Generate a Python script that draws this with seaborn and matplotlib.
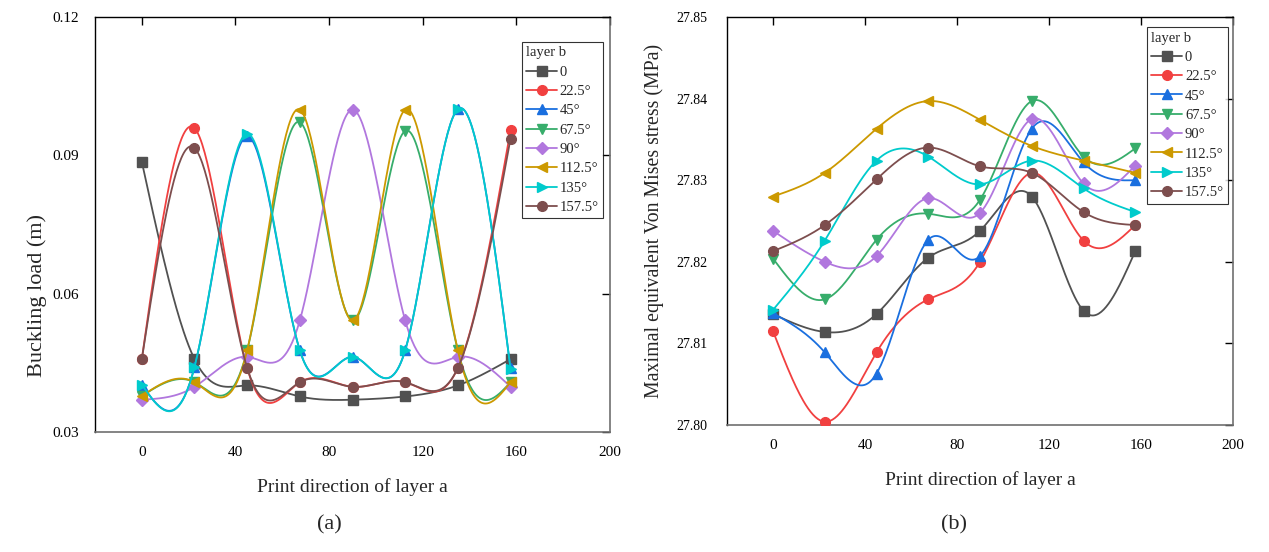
import numpy as np
import pandas as pd
import matplotlib
matplotlib.use("Agg")
import matplotlib.pyplot as plt
from matplotlib.lines import Line2D
import seaborn as sns

sns.set_theme(style="white")
plt.rcParams['font.family'] = ['Liberation Serif', 'DejaVu Serif']

# ---------------- data ----------------
angles_a = [0, 22.5, 45, 67.5, 90, 112.5, 135, 157.5]
layer_b = ["0", "22.5°", "45°", "67.5°", "90°", "112.5°", "135°", "157.5°"]

buck_0 = [0.0886, 0.0458, 0.0401, 0.0377, 0.0370, 0.0377, 0.0401, 0.0458]
buck_22_5 = [0.0458, 0.0959, 0.0439, 0.0408, 0.0398, 0.0408, 0.0439, 0.0954]
buck_45 = [0.0403, 0.0441, 0.0941, 0.0477, 0.0463, 0.0477, 0.1000, 0.0438]
buck_67_5 = [0.0378, 0.0408, 0.0477, 0.0972, 0.0542, 0.0953, 0.0477, 0.0408]
buck_90 = [0.0370, 0.0398, 0.0463, 0.0542, 0.0999, 0.0542, 0.0463, 0.0398]
buck_112_5 = [0.0378, 0.0408, 0.0477, 0.0999, 0.0542, 0.0999, 0.0477, 0.0408]
buck_135 = [0.0403, 0.0441, 0.0947, 0.0477, 0.0463, 0.0477, 0.1000, 0.0437]
buck_157_5 = [0.0458, 0.0916, 0.0439, 0.0408, 0.0398, 0.0408, 0.0439, 0.0936]

mises_0 = [27.8136, 27.8114, 27.8136, 27.8205, 27.8238, 27.8280, 27.8140, 27.8213]
mises_22_5 = [27.8115, 27.8004, 27.8089, 27.8154, 27.8200, 27.8309, 27.8226, 27.8245]
mises_45 = [27.8137, 27.8089, 27.8063, 27.8227, 27.8207, 27.8363, 27.8322, 27.8300]
mises_67_5 = [27.8204, 27.8154, 27.8227, 27.8259, 27.8276, 27.8397, 27.8329, 27.8339]
mises_90 = [27.8238, 27.8200, 27.8207, 27.8278, 27.8260, 27.8375, 27.8296, 27.8318]
mises_112_5 = [27.8280, 27.8309, 27.8363, 27.8397, 27.8374, 27.8342, 27.8324, 27.8309]
mises_135 = [27.8141, 27.8226, 27.8324, 27.8329, 27.8295, 27.8324, 27.8290, 27.8261]
mises_157_5 = [27.8213, 27.8245, 27.8301, 27.8340, 27.8317, 27.8309, 27.8261, 27.8245]

buckling = [buck_0, buck_22_5, buck_45, buck_67_5, buck_90, buck_112_5, buck_135, buck_157_5]
mises = [mises_0, mises_22_5, mises_45, mises_67_5, mises_90, mises_112_5, mises_135, mises_157_5]

x_ticks = [0, 40, 80, 120, 160, 200]
buck_ticks = [0.03, 0.06, 0.09, 0.12]
mises_ticks = [27.80, 27.81, 27.82, 27.83, 27.84, 27.85]

colors = ["#515151", "#F14040", "#1A6FDF", "#37AD6B", "#B177DE", "#CC9900", "#00CBCC", "#7D4E4E"]
markers = ["s", "o", "^", "v", "D", "<", ">", "o"]
msizes = [6.5, 7, 7, 7, 6, 7, 7, 7]


def natural_spline(x, y, n=300):
    x = np.asarray(x, float)
    y = np.asarray(y, float)
    k = len(x)
    h = np.diff(x)
    A = np.zeros((k, k))
    r = np.zeros(k)
    A[0, 0] = 1
    A[-1, -1] = 1
    for i in range(1, k - 1):
        A[i, i - 1] = h[i - 1]
        A[i, i] = 2 * (h[i - 1] + h[i])
        A[i, i + 1] = h[i]
        r[i] = 6 * ((y[i + 1] - y[i]) / h[i] - (y[i] - y[i - 1]) / h[i - 1])
    M = np.linalg.solve(A, r)
    xs = np.linspace(x[0], x[-1], n)
    idx = np.clip(np.searchsorted(x, xs) - 1, 0, k - 2)
    x0, x1 = x[idx], x[idx + 1]
    hh = x1 - x0
    t0 = x1 - xs
    t1 = xs - x0
    ys = (M[idx] * t0 ** 3 / (6 * hh) + M[idx + 1] * t1 ** 3 / (6 * hh)
          + (y[idx] / hh - M[idx] * hh / 6) * t0 + (y[idx + 1] / hh - M[idx + 1] * hh / 6) * t1)
    return xs, ys


fig = plt.figure(figsize=(12.69, 5.52), dpi=100)
W, H = 1269, 552
axL = fig.add_axes([95 / W, (H - 432) / H, 515 / W, 415 / H])
axR = fig.add_axes([727 / W, (H - 425) / H, 506 / W, 408 / H])


def draw(ax, series, yticks, ylim, ylabel, ylab_size, ylab_pos, ytick_size, ypad, leg_anchor):
    for i, vals in enumerate(series):
        xs, ys = natural_spline(angles_a, vals)
        sns.lineplot(x=xs, y=ys, ax=ax, color=colors[i], lw=1.3, zorder=2 + i, legend=False)
        ax.plot(angles_a, vals, ls="none", marker=markers[i], ms=msizes[i], color=colors[i],
                mec=colors[i], zorder=2.5 + i)
    ax.set_xlim(-20, 200)
    ax.set_ylim(*ylim)
    ax.set_xticks(x_ticks)
    ax.set_yticks(yticks)
    ax.set_yticklabels(["{:.2f}".format(v) for v in yticks])
    ax.tick_params(direction="in", length=6, width=1, top=True, right=True, colors="black")
    ax.tick_params(axis="x", labelsize=11, pad=10)
    ax.tick_params(axis="y", labelsize=ytick_size, pad=ypad)
    ax.set_xlabel("Print direction of layer a", fontsize=14, labelpad=14)
    ax.set_ylabel(ylabel, fontsize=ylab_size)
    ax.yaxis.set_label_coords(ylab_pos[0], ylab_pos[1])
    for s in ["left", "top"]:
        ax.spines[s].set_color("black")
        ax.spines[s].set_linewidth(1.0)
    for s in ["right", "bottom"]:
        ax.spines[s].set_color("#707070")
        ax.spines[s].set_linewidth(1.2)
    handles = [Line2D([0], [0], color=colors[i], lw=1.3, marker=markers[i], ms=msizes[i])
               for i in range(len(series))]
    leg = ax.legend(handles, layer_b, title="layer b", loc="upper left", bbox_to_anchor=leg_anchor,
                    borderaxespad=0, fontsize=10.5, title_fontsize=10.5, frameon=True, fancybox=False,
                    edgecolor="black", handlelength=2.1, handletextpad=0.2, labelspacing=0.42,
                    borderpad=0.3)
    leg._legend_box.align = "left"
    leg.get_frame().set_linewidth(0.8)


draw(axL, buckling, buck_ticks, (0.03, 0.12), "Buckling load (m)", 16, (-0.093, 0.33), 11, 11.5,
     (0.829, 0.940))
draw(axR, mises, mises_ticks, (27.80, 27.85), "Maximal equivalent Von Mises stress (MPa)", 14.3,
     (-0.125, 0.5), 10, 14, (0.830, 0.975))

fig.text(329 / W, 1 - 525 / H, "(a)", ha="center", va="center", fontsize=16)
fig.text(954 / W, 1 - 525 / H, "(b)", ha="center", va="center", fontsize=16)

fig.savefig("out.png", dpi=100)
